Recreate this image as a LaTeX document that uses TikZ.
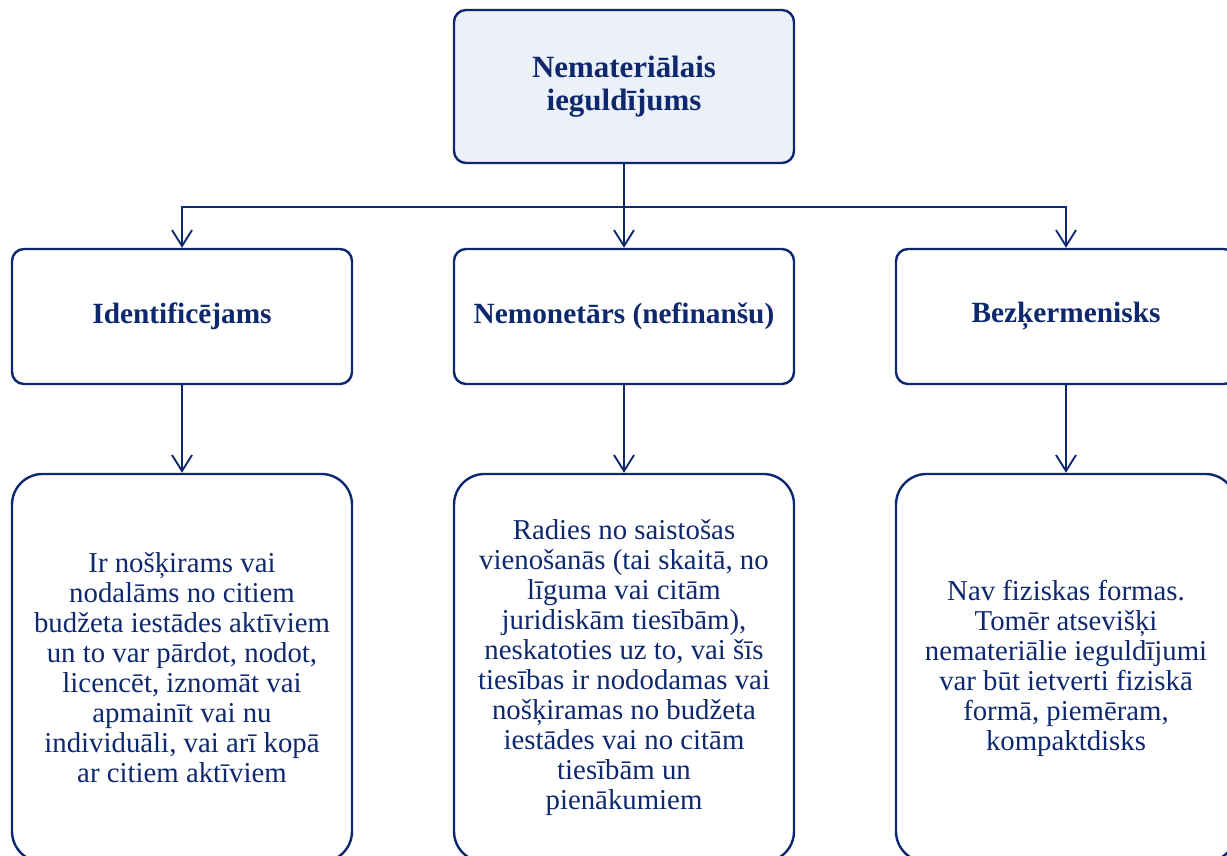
\documentclass[tikz,border=0pt]{standalone}
\usepackage{fontspec}
\setmainfont{Liberation Serif}
\usetikzlibrary{arrows.meta}
\definecolor{navy}{RGB}{14,40,110}
\definecolor{paleblue}{RGB}{235,240,249}
\tikzset{
    box/.style={draw=navy, line width=1.8pt, text=navy, align=center, minimum width=255pt, inner sep=0pt}, % common frame of every box
    headbox/.style={box, fill=paleblue, rounded corners=9pt, minimum height=114.75pt, font=\fontsize{23.2}{24.75}\selectfont\bfseries},
    keybox/.style={box, rounded corners=9pt, minimum height=101.25pt, font=\fontsize{22}{24.75}\selectfont\bfseries},
    textbox/.style={box, rounded corners=23pt, minimum height=291pt, font=\fontsize{21.6}{22.5}\selectfont},
    link/.style={draw=navy, line width=1.4pt, -{Straight Barb[length=12pt, width=15pt, line width=1.4pt]}}, % arrow between boxes
}
\begin{document}
\begin{tikzpicture}
    \useasboundingbox (0pt,0pt) rectangle (920.25pt,-642pt);
    \clip (0pt,0pt) rectangle (920.25pt,-642pt);
    \node[headbox] (top) at (468pt,-64.875pt) {Nemateriālais\\ieguldījums};
    \node[keybox, below of=top, node distance=172.5pt] (nonmon) {Nemonetārs (nefinanšu)};
    \node[keybox, left of=nonmon, node distance=331.5pt] (ident) {Identificējams};
    \node[keybox, right of=nonmon, node distance=331.5pt] (bodiless) {Bezķermenisks};
    \node[textbox, below of=ident, node distance=263.6pt] (identtext) {Ir nošķirams vai\\nodalāms no citiem\\budžeta iestādes aktīviem\\un to var pārdot, nodot,\\licencēt, iznomāt vai\\apmainīt vai nu\\individuāli, vai arī kopā\\ar citiem aktīviem};
    \node[textbox, below of=nonmon, node distance=263.6pt] (nonmontext) {Radies no saistošas\\vienošanās (tai skaitā, no\\līguma vai citām\\juridiskām tiesībām),\\neskatoties uz to, vai šīs\\tiesības ir nododamas vai\\nošķiramas no budžeta\\iestādes vai no citām\\tiesībām un\\pienākumiem};
    \node[textbox, below of=bodiless, node distance=263.6pt] (bodilesstext) {Nav fiziskas formas.\\Tomēr atsevišķi\\nemateriālie ieguldījumi\\var būt ietverti fiziskā\\formā, piemēram,\\kompaktdisks};
    \draw[link] (top.south) -- ++(0,-32.25pt) -| (ident.north);
    \draw[link] (top.south) -- (nonmon.north);
    \draw[link] (top.south) -- ++(0,-32.25pt) -| (bodiless.north);
    \draw[link] (ident) -- (identtext);
    \draw[link] (nonmon) -- (nonmontext);
    \draw[link] (bodiless) -- (bodilesstext);
\end{tikzpicture}
\end{document}
